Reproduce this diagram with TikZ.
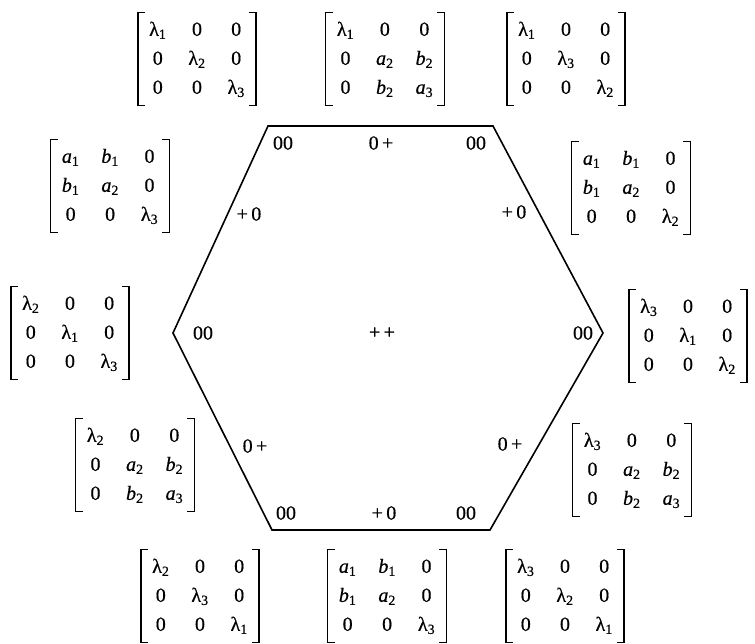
\documentclass[tikz,border=0pt]{standalone}
\usepackage{fontspec}
\setmainfont{Liberation Serif}[FakeBold=0.6]
\usetikzlibrary{positioning}
\newcommand{\lam}[1]{λ\textsubscript{#1}}
\newcommand{\av}[1]{\textit{a}\textsubscript{#1}}
\newcommand{\bv}[1]{\textit{b}\textsubscript{#1}}
\newcommand{\hmat}[9]{\begin{tabular}{@{}ccc@{}}#1&#2&#3\\#4&#5&#6\\#7&#8&#9\end{tabular}}

\begin{document}
\begin{tikzpicture}[
  x=1pt, y=-1pt,
  font=\fontsize{20}{29}\selectfont,
  mat/.style={inner xsep=11pt, inner ysep=3pt, anchor=center},
  brk/.style={line width=1.5pt},
  lbl/.style={inner sep=1pt},
  hexline/.style={line width=1.6pt, line join=miter},
]
\useasboundingbox (0,0) rectangle (755,644);
\setlength{\tabcolsep}{11pt}

% Hexagon corners
\coordinate (TL) at (268,126);
\coordinate (TR) at (493,126);
\coordinate (R)  at (603,333);
\coordinate (BR) at (490,530);
\coordinate (BL) at (272,530);
\coordinate (L)  at (173,333);
\draw[hexline] (TL) -- (TR) -- (R) -- (BR) -- (BL) -- (L) -- cycle;

% Sign labels
\node[lbl] (sTL) at (283,143) {00};
\node[lbl] (sT)  at (381,143) {0\,+};
\node[lbl] (sTR) at (476,143) {00};
\node[lbl] (sUL) at (249,214) {+\,0};
\node[lbl] (sUR) at (514,212) {+\,0};
\node[lbl] (sL)  at (203,333) {00};
\node[lbl] (sC)  at (382,333) {+\,+};
\node[lbl] (sR)  at (583,333) {00};
\node[lbl] (sLL) at (255,446) {0\,+};
\node[lbl] (sLR) at (510,444) {0\,+};
\node[lbl] (sBL) at (286,513) {00};
\node[lbl] (sB)  at (384,513) {+\,0};
\node[lbl] (sBR) at (466,513) {00};

% Top row
\node[mat] (mA) at (197,59) {\hmat{\lam1}{0}{0}{0}{\lam2}{0}{0}{0}{\lam3}};
\node[mat] (mB) at (385,59) {\hmat{\lam1}{0}{0}{0}{\av2}{\bv2}{0}{\bv2}{\av3}};
\node[mat] (mC) at (566,59) {\hmat{\lam1}{0}{0}{0}{\lam3}{0}{0}{0}{\lam2}};

% Upper sides
\node[mat] (mD) at (110,186) {\hmat{\av1}{\bv1}{0}{\bv1}{\av2}{0}{0}{0}{\lam3}};
\node[mat] (mE) at (631,188) {\hmat{\av1}{\bv1}{0}{\bv1}{\av2}{0}{0}{0}{\lam2}};

% Middle
\node[mat] (mF) at (70,333) {\hmat{\lam2}{0}{0}{0}{\lam1}{0}{0}{0}{\lam3}};
\node[mat] (mG) at (688,336) {\hmat{\lam3}{0}{0}{0}{\lam1}{0}{0}{0}{\lam2}};

% Lower sides
\node[mat] (mH) at (135,465) {\hmat{\lam2}{0}{0}{0}{\av2}{\bv2}{0}{\bv2}{\av3}};
\node[mat] (mI) at (632,470) {\hmat{\lam3}{0}{0}{0}{\av2}{\bv2}{0}{\bv2}{\av3}};

% Bottom row
\node[mat] (mJ) at (200,596) {\hmat{\lam2}{0}{0}{0}{\lam3}{0}{0}{0}{\lam1}};
\node[mat] (mK) at (387,596) {\hmat{\av1}{\bv1}{0}{\bv1}{\av2}{0}{0}{0}{\lam3}};
\node[mat] (mL) at (565,596) {\hmat{\lam3}{0}{0}{0}{\lam2}{0}{0}{0}{\lam1}};

% Brackets
\foreach \m in {mA,mB,mC,mD,mE,mF,mG,mH,mI,mJ,mK,mL} {
  \draw[brk] ([xshift=7pt]\m.north west) -| (\m.south west) -- ++(7,0);
  \draw[brk] ([xshift=-7pt]\m.north east) -| (\m.south east) -- ++(-7,0);
}

\end{tikzpicture}
\end{document}
